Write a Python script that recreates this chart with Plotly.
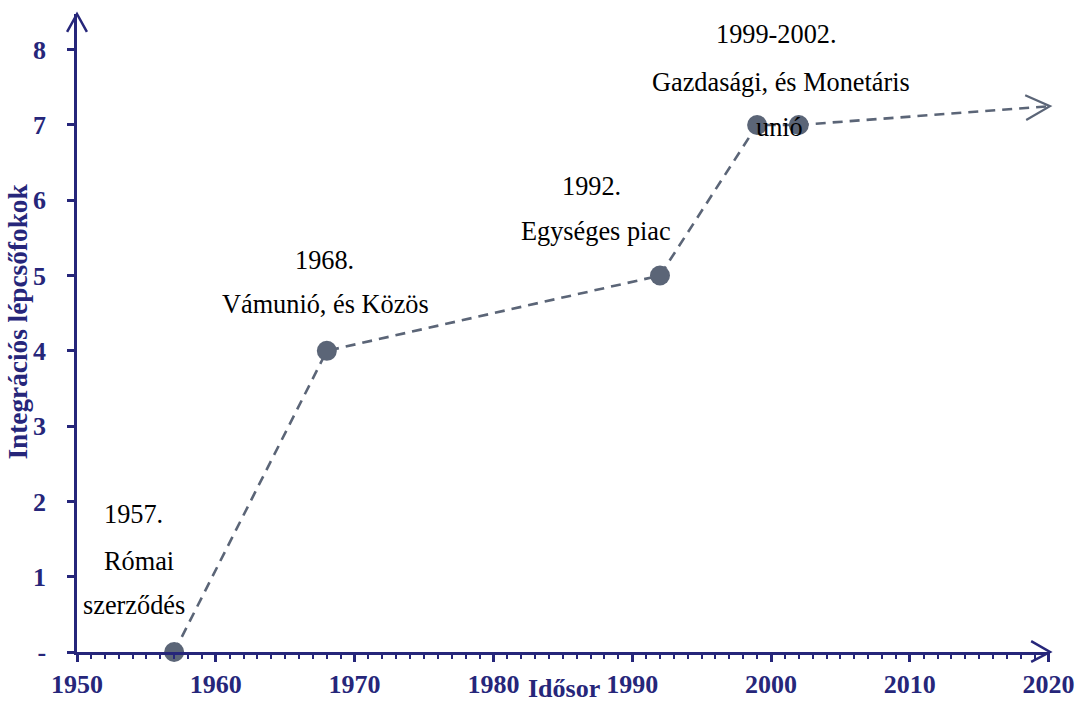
import plotly.graph_objects as go

# ---- data ----
years = [1957, 1968, 1992, 1999, 2002]
levels = [0, 4, 5, 7, 7]
trend_end_year = 2020.1
trend_end_level = 7.25

y_ticks = [0, 1, 2, 3, 4, 5, 6, 7, 8]
y_tick_labels = ["-", "1", "2", "3", "4", "5", "6", "7", "8"]
x_ticks = [1950, 1960, 1970, 1980, 1990, 2000, 2010, 2020]

label_lines = ["1957.", "Római", "szerződés",
               "1968.", "Vámunió, és Közös",
               "1992.", "Egységes piac",
               "1999-2002.", "Gazdasági, és Monetáris", "unió"]
label_x = [1954.1, 1954.5, 1954.1, 1967.8, 1967.9, 1987.1, 1987.4, 2000.4, 2000.7, 2000.6]
label_y = [1.82, 1.20, 0.62, 5.20, 4.62, 6.18, 5.59, 8.20, 7.57, 6.97]

# ---- layout constants (pixels) ----
W, H = 1087, 711
L, R, T, B = 77, 1087 - 1058, 14, 711 - 658
NAVY = "#26267a"
GREY = "#5b6577"
DASH = "10px,7px"
XMIN, XMAX = 1950, 2020.1
YMIN = 0
YMAX = (658 - 14) / 76.0

pw = W - L - R
ph = H - T - B


def px_to_paper(px, py):
    return (px - L) / pw, (H - B - py) / ph


def data_to_px(x, y):
    return L + (x - XMIN) / (XMAX - XMIN) * pw, (H - B) - (y - YMIN) / (YMAX - YMIN) * ph


fig = go.Figure()

fig.add_trace(go.Scatter(
    x=[years[-1], trend_end_year], y=[levels[-1], trend_end_level],
    mode="lines", line=dict(color=GREY, width=2.6, dash=DASH),
    hoverinfo="skip", showlegend=False, cliponaxis=False))

fig.add_trace(go.Scatter(
    x=years, y=levels, mode="lines+markers",
    line=dict(color=GREY, width=2.6, dash=DASH),
    marker=dict(color=GREY, size=20),
    showlegend=False, cliponaxis=False))

shapes = []


def chevron(tip, a, b, color, width):
    tx, ty = px_to_paper(*tip)
    ax, ay = px_to_paper(*a)
    bx, by = px_to_paper(*b)
    path = f"M {ax} {ay} L {tx} {ty} L {bx} {by}"
    shapes.append(dict(type="path", xref="paper", yref="paper", path=path,
                       line=dict(color=color, width=width)))


chevron((77, 14), (67, 32), (87, 32), NAVY, 2.5)
chevron((1058, 658), (1039, 647), (1039, 668), NAVY, 2.5)
tpx, tpy = data_to_px(trend_end_year, trend_end_level)
chevron((tpx, tpy), (tpx - 25, tpy - 11), (tpx - 24, tpy + 14), GREY, 2.2)

annotations = []
for txt, xv, yv in zip(label_lines, label_x, label_y):
    annotations.append(dict(x=xv, y=yv, xref="x", yref="y", text=txt, showarrow=False,
                            xanchor="center", yanchor="middle",
                            font=dict(family="Liberation Serif", size=26.3, color="black")))

ytx, yty = px_to_paper(18, 324)
annotations.append(dict(x=ytx, y=yty, xref="paper", yref="paper", xanchor="center", yanchor="middle",
                        text="<b>Integrációs lépcsőfokok</b>", textangle=-90, showarrow=False,
                        font=dict(family="Liberation Serif", size=27.3, color=NAVY)))
xtx, xty = px_to_paper(568, 711)
annotations.append(dict(x=xtx, y=xty, xref="paper", yref="paper", xanchor="center", yanchor="bottom",
                        text="<b>Idősor</b>", showarrow=False,
                        font=dict(family="Liberation Serif", size=26, color=NAVY)))

tickfont = dict(family="Liberation Serif", size=26, color=NAVY, weight="bold")
fig.update_layout(
    width=W, height=H, autosize=False,
    margin=dict(l=L, r=R, t=T, b=B, pad=0),
    paper_bgcolor="white", plot_bgcolor="white",
    shapes=shapes, annotations=annotations,
    xaxis=dict(range=[XMIN, XMAX], tickvals=x_ticks, showgrid=False, zeroline=False,
               showline=True, linecolor=NAVY, linewidth=2.5,
               ticks="outside", ticklen=7, tickwidth=2.5, tickcolor=NAVY,
               minor=dict(dtick=1, tick0=1950, ticks="outside", ticklen=4, tickwidth=2, tickcolor=NAVY, showgrid=False),
               tickfont=tickfont, ticklabelstandoff=0),
    yaxis=dict(range=[YMIN, YMAX], tickvals=y_ticks, ticktext=y_tick_labels, showgrid=False,
               zeroline=False, showline=True, linecolor=NAVY, linewidth=2.5,
               ticks="outside", ticklen=7, tickwidth=2.5, tickcolor=NAVY,
               tickfont=tickfont, ticklabelstandoff=16),
)

fig.write_html(
    "out.html",
    config={"displayModeBar": False, "responsive": False},
    post_script=(
        "document.documentElement.style.margin='0px';"
        "document.body.style.margin='0px';"
        "document.documentElement.style.overflow='hidden';"
        "document.body.style.overflow='hidden';"
        "document.querySelectorAll('.plotly-graph-div, .svg-container, .main-svg').forEach(function(e){"
        "e.style.overflow='hidden';});"
    ),
)
